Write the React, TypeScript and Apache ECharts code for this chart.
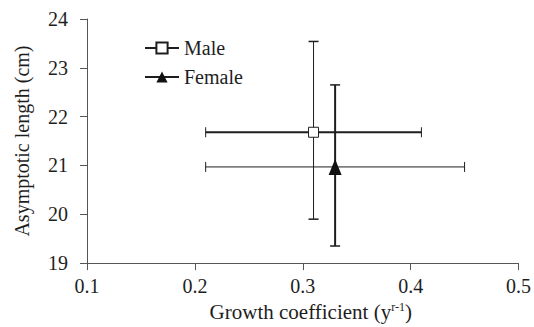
import React, { useEffect, useRef } from "react";
import * as echarts from "echarts";

const seriesNames = ["Male", "Female"];
const kValues = [0.31, 0.33];
const linfValues = [21.68, 20.97];
const kLow = [0.21, 0.21];
const kHigh = [0.41, 0.45];
const linfLow = [19.9, 19.35];
const linfHigh = [23.54, 22.65];
const xTicks = [0.1, 0.2, 0.3, 0.4, 0.5];
const yTicks = [19, 20, 21, 22, 23, 24];

const FONT = "Liberation Serif";
const INK = "#1e1e1e";
// line widths for [horizontal, vertical] bars
const barWidths = [
  [2, 1],
  [1, 2],
];

export default function App() {
  const ref = useRef<HTMLDivElement>(null);
  useEffect(() => {
    if (!ref.current) return;
    document.body.style.margin = "0";
    const chart = echarts.init(ref.current, undefined, { renderer: "svg" });
    const errorSeries = seriesNames.map((name, i) => ({
      type: "custom",
      name: name + " error",
      z: 2,
      data: [[kValues[i], linfValues[i], kLow[i], kHigh[i], linfLow[i], linfHigh[i]]],
      encode: { x: [0, 2, 3], y: [0, 1, 4, 5] },
      renderItem: (params: any, api: any) => {
        const x = api.value(0), y = api.value(1);
        const l = api.coord([api.value(2), y]);
        const r = api.coord([api.value(3), y]);
        const b = api.coord([x, api.value(4)]);
        const t = api.coord([x, api.value(5)]);
        const hw = barWidths[i][0];
        const vw = barWidths[i][1];
        const cap = 5;
        const st = (w: number) => ({ stroke: INK, lineWidth: w, fill: null });
        return {
          type: "group",
          children: [
            { type: "line", shape: { x1: l[0], y1: l[1], x2: r[0], y2: r[1] }, style: st(hw) },
            { type: "line", shape: { x1: l[0], y1: l[1] - cap, x2: l[0], y2: l[1] + cap }, style: st(1) },
            { type: "line", shape: { x1: r[0], y1: r[1] - cap, x2: r[0], y2: r[1] + cap }, style: st(1) },
            { type: "line", shape: { x1: b[0], y1: b[1], x2: t[0], y2: t[1] }, style: st(vw) },
            { type: "line", shape: { x1: b[0] - cap, y1: b[1], x2: b[0] + cap, y2: b[1] }, style: st(1.5) },
            { type: "line", shape: { x1: t[0] - cap, y1: t[1], x2: t[0] + cap, y2: t[1] }, style: st(1.5) },
          ],
        };
      },
    }));
    const pointSeries = seriesNames.map((name, i) => ({
      type: "line",
      name,
      z: 5,
      data: [[kValues[i], linfValues[i]]],
      symbol: i === 0 ? "rect" : "triangle",
      symbolSize: i === 0 ? 10 : [13, 16],
      showSymbol: true,
      itemStyle:
        i === 0
          ? { color: "#fff", borderColor: INK, borderWidth: 1 }
          : { color: "#111", borderColor: "#111", borderWidth: 0 },
      lineStyle: { color: INK, width: 1.5 },
      emphasis: { disabled: true },
    }));
    chart.setOption({
      animation: false,
      backgroundColor: "#fff",
      textStyle: { fontFamily: FONT },
      grid: { left: 87, right: 12.3, top: 19, bottom: 60 },
      legend: {
        data: seriesNames,
        orient: "vertical",
        left: 139,
        top: 33,
        itemGap: 9,
        itemWidth: 34,
        itemHeight: 14,
        textStyle: { fontFamily: FONT, fontSize: 20, color: INK },
        selectedMode: false,
      },
      xAxis: {
        type: "value",
        min: xTicks[0],
        max: xTicks[xTicks.length - 1],
        interval: 0.1,
        name: "{a|Growth coefficient (y}{s|r-1}{a|)}",
        nameLocation: "middle",
        nameGap: 30,
        nameTextStyle: {
          padding: [0, 0, 0, 16],
          rich: {
            a: { fontFamily: FONT, fontSize: 21, color: INK },
            s: { fontFamily: FONT, fontSize: 12, color: INK, padding: [0, 0, 9, 0] },
          },
        },
        axisLine: { lineStyle: { color: "#555", width: 1 } },
        axisTick: { show: true, inside: false, length: 7, lineStyle: { color: "#555" } },
        axisLabel: {
          fontFamily: FONT,
          fontSize: 20,
          color: INK,
          margin: 13,
          formatter: (v: number) => v.toFixed(1),
        },
        splitLine: { show: false },
      },
      yAxis: {
        type: "value",
        min: yTicks[0],
        max: yTicks[yTicks.length - 1],
        interval: 1,
        name: "Asymptotic length (cm)",
        nameLocation: "middle",
        nameGap: 55,
        nameTextStyle: { fontFamily: FONT, fontSize: 20, color: INK },
        axisLine: { show: true, lineStyle: { color: "#555", width: 1 } },
        axisTick: { show: true, inside: false, length: 7, lineStyle: { color: "#555" } },
        axisLabel: { fontFamily: FONT, fontSize: 20, color: INK, margin: 19 },
        splitLine: { show: false },
      },
      series: [...errorSeries, ...pointSeries],
    });
    return () => chart.dispose();
  }, []);
  return <div ref={ref} style={{ width: 534, height: 327 }} />;
}
